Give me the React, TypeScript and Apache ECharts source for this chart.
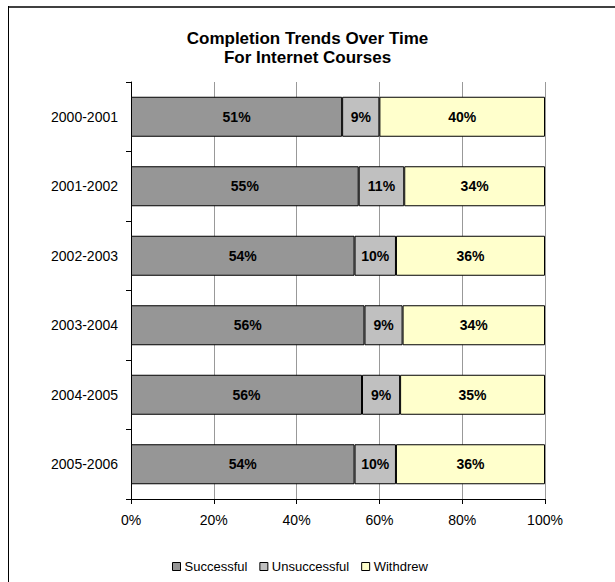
import React, { useEffect, useRef } from "react";
import * as echarts from "echarts";

const categories = ["2000-2001", "2001-2002", "2002-2003", "2003-2004", "2004-2005", "2005-2006"];
const successful = [51, 55, 54, 56.4, 55.8, 54];
const unsuccessful = [9, 11, 10, 9.2, 9.2, 10];
const withdrew = [40, 34, 36, 34.4, 35, 36];
const xTicks = [0, 20, 40, 60, 80, 100];

const FONT = "'Liberation Sans', Arial, sans-serif";

export default function App() {
  const ref = useRef<HTMLDivElement>(null);
  useEffect(() => {
    if (!ref.current) return;
    const chart = echarts.init(ref.current, null, { renderer: "svg" });
    const label = {
      show: true,
      position: "inside",
      formatter: (p: any) => Math.round(p.value) + "%",
      color: "#000",
      fontWeight: "bold",
      fontSize: 14,
      fontFamily: FONT,
    };
    const mk = (name: string, data: number[], color: string) => ({
      name,
      type: "bar",
      stack: "total",
      data,
      barWidth: 40,
      itemStyle: { color, borderColor: "#000", borderWidth: 1 },
      label,
      emphasis: { disabled: true },
    });
    chart.setOption({
      animation: false,
      textStyle: { fontFamily: FONT },
      title: {
        text: "Completion Trends Over Time\nFor Internet Courses",
        left: "center",
        top: 24,
        textStyle: { fontSize: 17, fontWeight: "bold", color: "#000", lineHeight: 19, fontFamily: FONT },
      },
      graphic: [
        { type: "line", shape: { x1: 8, y1: 7, x2: 615, y2: 7 }, style: { stroke: "#404040", lineWidth: 2 } },
        { type: "line", shape: { x1: 8.5, y1: 6, x2: 8.5, y2: 582 }, style: { stroke: "#000", lineWidth: 1 } },
      ],
      legend: {
        left: 167,
        top: 555,
        icon: "rect",
        itemWidth: 8,
        itemHeight: 8,
        itemGap: 12,
        textStyle: { fontSize: 13, color: "#000", fontFamily: FONT, padding: [0, 0, 0, -1] },
        itemStyle: { borderColor: "#000", borderWidth: 1 },
        data: ["Successful", "Unsuccessful", "Withdrew"],
      },
      grid: { left: 131, right: 70, top: 82, bottom: 83 },
      xAxis: {
        type: "value",
        min: 0,
        max: 100,
        interval: 20,
        axisLine: { show: true, lineStyle: { color: "#000", width: 1 } },
        axisTick: { show: true, length: 5, lineStyle: { color: "#000" } },
        axisLabel: {
          formatter: (v: number) => (xTicks.includes(v) ? v + "%" : ""),
          fontSize: 14,
          color: "#000",
          margin: 14,
          fontFamily: FONT,
        },
        splitLine: { show: true, lineStyle: { color: "#999", width: 1 } },
      },
      yAxis: {
        type: "category",
        data: categories,
        inverse: true,
        axisLine: { show: true, lineStyle: { color: "#000", width: 1 } },
        axisTick: { show: true, length: 5, lineStyle: { color: "#000" } },
        axisLabel: { fontSize: 14, color: "#000", margin: 13, fontFamily: FONT },
      },
      series: [
        mk("Successful", successful, "#969696"),
        mk("Unsuccessful", unsuccessful, "#C0C0C0"),
        mk("Withdrew", withdrew, "#FFFFCC"),
      ],
    });
    return () => chart.dispose();
  }, []);
  return (
    <div
      ref={ref}
      style={{ position: "fixed", left: 0, top: 0, width: 615, height: 582, background: "#fff" }}
    />
  );
}
